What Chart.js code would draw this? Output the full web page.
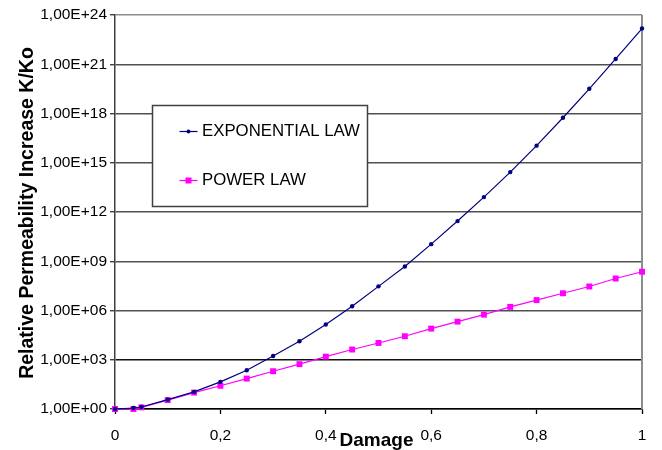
<!DOCTYPE html>
<html>
<head>
<meta charset="utf-8">
<title>Relative Permeability Increase vs Damage</title>
<script src="https://cdn.jsdelivr.net/npm/chart.js@4.4.1/dist/chart.umd.min.js"></script>
<style>
  html, body { margin: 0; padding: 0; background: #fff; }
  #wrap { width: 662px; height: 450px; }
</style>
</head>
<body>
<div id="wrap"><canvas id="c" width="662" height="450"></canvas></div>
<script>
// Damage values (x) and relative permeability increase K/Ko for each law
const damage = [0, 0.035, 0.05, 0.1, 0.15, 0.2, 0.25, 0.3, 0.35, 0.4, 0.45, 0.5,
                0.55, 0.6, 0.65, 0.7, 0.75, 0.8, 0.85, 0.9, 0.95, 1];
const exponentialLaw = [1, 1.15, 1.32, 3.7, 11, 45, 230, 1.7e3, 1.35e4, 1.4e5, 1.8e6, 2.95e7,
                        4.8e8, 1.1e10, 2.8e11, 8.1e12, 2.7e14, 1.1e16, 5.5e17, 3.2e19, 2.1e21, 1.5e23];
const powerLaw = [1, 1, 1.26, 3.5, 10, 26, 71, 200, 540, 1.55e3, 4.2e3, 1.05e4,
                  2.7e4, 7.9e4, 2.1e5, 5.6e5, 1.66e6, 4.3e6, 1.12e7, 2.9e7, 8.9e7, 2.3e8];

const seriesNames = ['EXPONENTIAL LAW', 'POWER LAW'];

// Axis ticks
const xTickValues = [0, 0.2, 0.4, 0.6, 0.8, 1];
const xTickLabels = ['0', '0,2', '0,4', '0,6', '0,8', '1'];
const yTickValues = [1, 1e3, 1e6, 1e9, 1e12, 1e15, 1e18, 1e21, 1e24];
const yTickLabels = ['1,00E+00', '1,00E+03', '1,00E+06', '1,00E+09', '1,00E+12',
                     '1,00E+15', '1,00E+18', '1,00E+21', '1,00E+24'];

const xTitle = 'Damage';
const yTitle = 'Relative Permeability Increase K/Ko';

const FONT = '"Liberation Sans", Arial, Helvetica, sans-serif';
const EXP_COLOR = '#000080';
const POW_COLOR = '#FF00FF';

function toPoints(xs, ys) {
  return xs.map((x, i) => ({ x: x, y: ys[i] }));
}

// Right frame line, boxed legend and axis titles
const decorations = {
  id: 'decorations',
  beforeDatasetsDraw(chart) {
    const { ctx, chartArea: a } = chart;
    ctx.save();
    ctx.strokeStyle = '#8c8c8c';
    ctx.lineWidth = 2;
    ctx.beginPath();
    ctx.moveTo(a.right, a.top);
    ctx.lineTo(a.right, a.bottom);
    ctx.stroke();
    ctx.restore();
  },
  afterDatasetsDraw(chart) {
    const { ctx, chartArea: a } = chart;
    ctx.save();
    // legend box
    const bx = a.left + 37.5, by = a.top + 90.5, bw = 215, bh = 101;
    ctx.fillStyle = '#fff';
    ctx.fillRect(bx, by, bw, bh);
    ctx.strokeStyle = '#404040';
    ctx.lineWidth = 1.5;
    ctx.strokeRect(bx, by, bw, bh);

    const rows = [
      { y: by + 26, color: EXP_COLOR, marker: 'circle' },
      { y: by + 75, color: POW_COLOR, marker: 'rect' }
    ];
    rows.forEach((r, i) => {
      ctx.strokeStyle = r.color;
      ctx.lineWidth = 1.2;
      ctx.beginPath();
      ctx.moveTo(bx + 27, r.y);
      ctx.lineTo(bx + 45, r.y);
      ctx.stroke();
      ctx.fillStyle = r.color;
      if (r.marker === 'circle') {
        ctx.beginPath();
        ctx.arc(bx + 36, r.y, 2, 0, Math.PI * 2);
        ctx.fill();
      } else {
        ctx.fillRect(bx + 33, r.y - 3, 6, 6);
      }
      ctx.fillStyle = '#000';
      ctx.font = '16.8px ' + FONT;
      ctx.textBaseline = 'middle';
      ctx.textAlign = 'left';
      ctx.fillText(seriesNames[i], bx + 49.5, r.y);
    });
    ctx.restore();
  },
  afterDraw(chart) {
    const { ctx, chartArea: a } = chart;
    ctx.save();
    ctx.fillStyle = '#000';
    ctx.font = 'bold 19px ' + FONT;
    ctx.textAlign = 'center';
    ctx.textBaseline = 'middle';
    ctx.fillText(xTitle, (a.left + a.right) / 2 - 2, 441);
    ctx.translate(28, (a.top + a.bottom) / 2 + 1);
    ctx.rotate(-Math.PI / 2);
    ctx.font = 'bold 19.5px ' + FONT;
    ctx.fillText(yTitle, 0, 0);
    ctx.restore();
  }
};

new Chart(document.getElementById('c'), {
  type: 'scatter',
  data: {
    datasets: [
      {
        label: seriesNames[0],
        data: toPoints(damage, exponentialLaw),
        showLine: true,
        borderColor: EXP_COLOR,
        backgroundColor: EXP_COLOR,
        borderWidth: 1.2,
        pointStyle: 'circle',
        pointRadius: 2.2,
        pointBorderWidth: 0,
        clip: false
      },
      {
        label: seriesNames[1],
        data: toPoints(damage, powerLaw),
        showLine: true,
        borderColor: POW_COLOR,
        backgroundColor: POW_COLOR,
        borderWidth: 1.2,
        pointStyle: 'rect',
        pointRadius: 4.2,
        pointBorderWidth: 0,
        clip: false
      }
    ]
  },
  options: {
    responsive: false,
    animation: false,
    devicePixelRatio: 1,
    layout: { padding: { top: 15, right: 20, left: 0, bottom: 0 } },
    plugins: {
      legend: { display: false },
      tooltip: { enabled: false }
    },
    scales: {
      x: {
        type: 'linear',
        min: 0,
        max: 1,
        afterBuildTicks(scale) { scale.ticks = xTickValues.map(v => ({ value: v })); },
        afterFit(scale) { scale.height = 41; },
        ticks: {
          autoSkip: false,
          maxRotation: 0,
          color: '#000',
          padding: 12,
          font: { family: FONT, size: 15.5 },
          callback: (v, i) => xTickLabels[i]
        },
        grid: { drawOnChartArea: false, tickLength: 5, tickColor: '#000', tickWidth: 1.3 },
        border: { color: '#000', width: 1.5 }
      },
      y: {
        type: 'logarithmic',
        min: 1,
        max: 1e24,
        afterBuildTicks(scale) { scale.ticks = yTickValues.map(v => ({ value: v })); },
        afterFit(scale) { scale.width = 115; },
        ticks: {
          autoSkip: false,
          color: '#000',
          padding: 3,
          font: { family: FONT, size: 15.5 },
          callback: (v, i) => yTickLabels[i]
        },
        grid: {
          color: c => (c.tick && c.tick.value === 1e24) ? '#8c8c8c' : (c.tick && c.tick.value === 1e3 ? '#111' : '#505050'),
          lineWidth: 1.4,
          tickLength: 5,
          tickColor: '#404040'
        },
        border: { color: '#404040', width: 1.5 }
      }
    }
  },
  plugins: [decorations]
});
</script>
</body>
</html>
